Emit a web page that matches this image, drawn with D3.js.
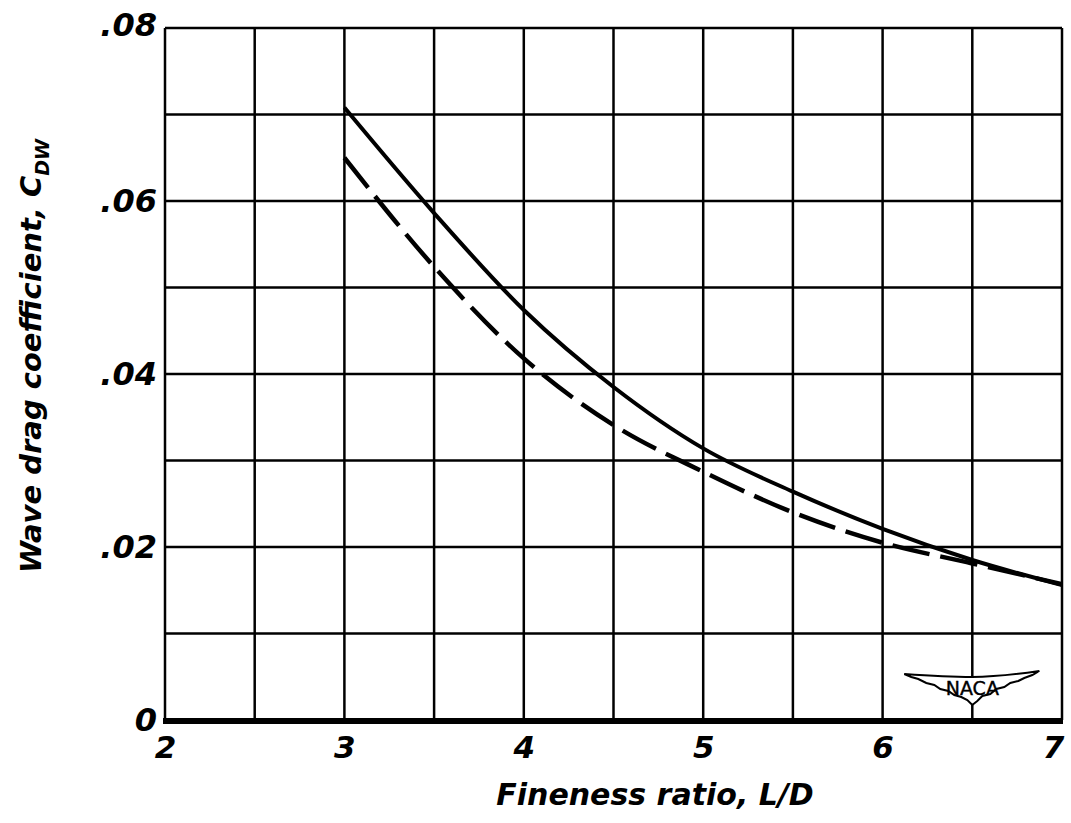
<!DOCTYPE html>
<html>
<head>
<meta charset="utf-8">
<title>Wave drag coefficient vs fineness ratio</title>
<script src="https://d3js.org/d3.v7.min.js"></script>
<style>
body {margin:0; background:white;}
text {font-family:"DejaVu Sans", sans-serif; font-style:italic; font-weight:bold; fill:black;}
</style>
</head>
<body>
<svg width="1071" height="823"></svg>
<script>
// values
var fineness = [3, 3.5, 4, 4.5, 5, 5.5, 6, 6.5, 7];
var solidCdw = [0.0708, 0.0586, 0.0474, 0.0385, 0.0314, 0.0264, 0.0221, 0.0185, 0.0156];
var dashedCdw = [0.0650, 0.0524, 0.0418, 0.0341, 0.0287, 0.0240, 0.0205, 0.0181, 0.0157];

var xTicks = [2, 3, 4, 5, 6, 7];
var xTickLabels = ["2", "3", "4", "5", "6", "7"];
var yTicks = [0, 0.02, 0.04, 0.06, 0.08];
var yTickLabels = ["0", ".02", ".04", ".06", ".08"];
var xGrid = [2, 2.5, 3, 3.5, 4, 4.5, 5, 5.5, 6, 6.5, 7];
var yGrid = [0.01, 0.02, 0.03, 0.04, 0.05, 0.06, 0.07, 0.08];

var marginLeft = 165, plotRight = 1062, plotTop = 28, plotBottom = 720;

var x = d3.scaleLinear().domain([2, 7]).range([marginLeft, plotRight]);
var y = d3.scaleLinear().domain([0, 0.08]).range([plotBottom, plotTop]);

var svg = d3.select("svg");

// grid
svg.append("g").selectAll("line")
  .data(xGrid)
  .enter().append("line")
  .attr("x1", function(d) { return x(d); })
  .attr("x2", function(d) { return x(d); })
  .attr("y1", y(0.08))
  .attr("y2", y(0))
  .attr("stroke", "black")
  .attr("stroke-width", 2.5);

svg.append("g").selectAll("line")
  .data(yGrid)
  .enter().append("line")
  .attr("x1", x(2))
  .attr("x2", x(7))
  .attr("y1", function(d) { return y(d); })
  .attr("y2", function(d) { return y(d); })
  .attr("stroke", "black")
  .attr("stroke-width", 2.5);

// heavy base line
svg.append("line")
  .attr("x1", x(2) - 2).attr("x2", x(7) + 1)
  .attr("y1", y(0) + 1).attr("y2", y(0) + 1)
  .attr("stroke", "black")
  .attr("stroke-width", 6);

// axes (labels only, the grid carries the lines)
var xAxis = d3.axisBottom(x).tickValues(xTicks)
  .tickFormat(function(d, i) { return xTickLabels[i]; })
  .tickSize(0).tickPadding(38);
var gx = svg.append("g")
  .attr("transform", "translate(0," + plotBottom + ")")
  .call(xAxis);
gx.select(".domain").remove();
gx.selectAll("text").attr("font-size", 31).attr("dy", 0)
  .style("font-family", "DejaVu Sans").style("font-style", "italic").style("font-weight", "bold");
gx.selectAll(".tick").filter(function(d) { return d === 7; })
  .select("text").attr("dx", -9);

var yAxis = d3.axisLeft(y).tickValues(yTicks)
  .tickFormat(function(d, i) { return yTickLabels[i]; })
  .tickSize(0).tickPadding(8);
var gy = svg.append("g")
  .attr("transform", "translate(" + marginLeft + ",0)")
  .call(yAxis);
gy.select(".domain").remove();
gy.selectAll("text").attr("font-size", 32).attr("dy", "0.32em")
  .style("font-family", "DejaVu Sans").style("font-style", "italic").style("font-weight", "bold");
gy.selectAll(".tick").filter(function(d) { return d === 0.08; })
  .select("text").attr("dy", "0.24em");

// curves
var line = d3.line()
  .x(function(d) { return x(d[0]); })
  .y(function(d) { return y(d[1]); })
  .curve(d3.curveMonotoneX);

svg.append("path")
  .datum(fineness.map(function(f, i) { return [f, solidCdw[i]]; }))
  .attr("d", line)
  .attr("fill", "none")
  .attr("stroke", "black")
  .attr("stroke-width", 4);

svg.append("path")
  .datum(fineness.map(function(f, i) { return [f, dashedCdw[i]]; }))
  .attr("d", line)
  .attr("fill", "none")
  .attr("stroke", "black")
  .attr("stroke-width", 4.5)
  .attr("stroke-dasharray", "38,11");

// NACA wings
var logo = svg.append("g")
  .attr("transform", "translate(" + x(6.5) + "," + y(0) + ")");
logo.append("path")
  .attr("d", "M-68,-46 C-40,-44 -20,-43 0,-43 C20,-43 40,-45 67,-49 " +
             "L60,-45 L52,-42 L46,-39 L38,-37 L32,-33 L24,-31 L18,-26 L10,-24 L5,-19 L0,-15 " +
             "L-5,-20 L-11,-23 L-18,-25 L-24,-29 L-32,-31 L-38,-35 L-46,-37 L-54,-41 L-61,-43 Z")
  .attr("fill", "white")
  .attr("stroke", "black")
  .attr("stroke-width", 2);
logo.append("text")
  .attr("x", 0).attr("y", -25)
  .attr("text-anchor", "middle")
  .attr("font-size", 19)
  .attr("stroke", "black")
  .attr("stroke-width", 0.4)
  .style("font-style", "normal")
  .style("font-weight", "normal")
  .text("NACA");

// axis titles
svg.append("text")
  .attr("x", 655).attr("y", 805)
  .attr("text-anchor", "middle")
  .attr("font-size", 30)
  .text("Fineness ratio, L/D");

var ylab = svg.append("text")
  .attr("transform", "translate(41,356) rotate(-90)")
  .attr("text-anchor", "middle")
  .attr("font-size", 29);
ylab.append("tspan").text("Wave drag coefficient, C");
ylab.append("tspan").attr("font-size", 19).attr("dy", 8).text("DW");
</script>
</body>
</html>
